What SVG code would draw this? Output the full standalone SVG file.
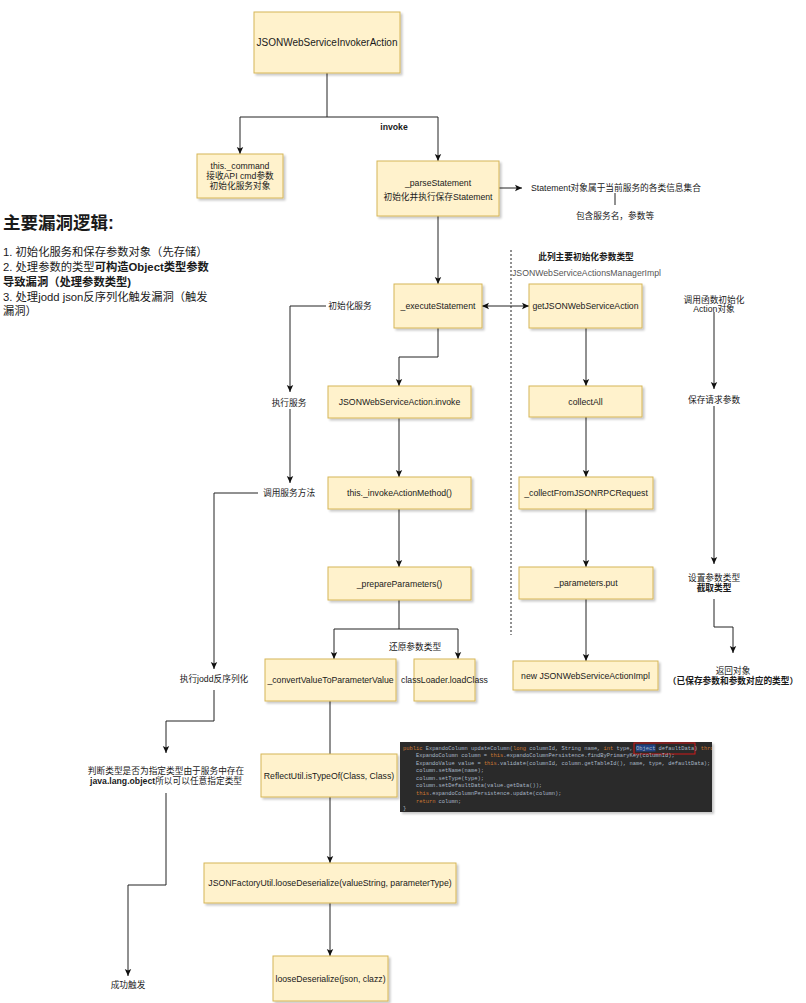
<svg xmlns="http://www.w3.org/2000/svg" width="806" height="1003" viewBox="0 0 806 1003">
  <defs>
    <style>
      text { font-family: "Liberation Sans", "Noto Sans CJK SC", sans-serif; fill: #1a1a1a; }
      .node rect { fill: #fff2cc; stroke: #d6b656; stroke-width: 1; filter: url(#shadow); }
      .nt { font-size: 8.7px; text-anchor: middle; dominant-baseline: central; }
      .lbl { font-size: 8.7px; text-anchor: middle; dominant-baseline: central; }
      .b { font-weight: bold; }
      .edge path { fill: none; stroke: #222; stroke-width: 1; }
      .arr { marker-end: url(#arrow); }
      .note { font-size: 11.3px; dominant-baseline: central; }
      .code text { font-family: "Liberation Mono", "DejaVu Sans Mono", monospace; font-size: 5.4px; fill: #a9b7c6; dominant-baseline: central; white-space: pre; }
      .code .kw { fill: #cc7832; }
    </style>
    <filter id="shadow" x="-10%" y="-10%" width="130%" height="140%">
      <feDropShadow dx="2" dy="2" stdDeviation="1" flood-color="#000" flood-opacity="0.22"/>
    </filter>
    <marker id="arrow" markerUnits="userSpaceOnUse" markerWidth="8" markerHeight="8" refX="7" refY="4" orient="auto-start-reverse">
      <path d="M0,0.8 L7,4 L0,7.2 L1.6,4 Z" fill="#111"/>
    </marker>
    <clipPath id="codeClip">
      <rect x="400" y="742" width="312" height="70"/>
    </clipPath>
  </defs>

  <rect width="806" height="1003" fill="#ffffff"/>

  <!-- connectors -->
  <g id="connectors" class="edge">
    <path class="arr" d="M327,73 V117 H240 V154"/>
    <path class="arr" d="M327,117 H438 V161"/>
    <path class="arr" d="M499,188 H522"/>
    <path d="M615,193 V205"/>
    <path class="arr" d="M438,216 V284"/>
    <path class="arr" d="M482,306 H529" marker-start="url(#arrow)"/>
    <path class="arr" d="M438,328 V357 H399 V386"/>
    <path class="arr" d="M399,418 V477"/>
    <path class="arr" d="M399,509 V567"/>
    <path class="arr" d="M399,600 V629 H334 V659"/>
    <path class="arr" d="M399,629 H458 V659"/>
    <path d="M330,701 V754"/>
    <path class="arr" d="M330,797 V863"/>
    <path class="arr" d="M330,903 V956"/>
    <path class="arr" d="M586,328 V386"/>
    <path class="arr" d="M586,417 V477"/>
    <path class="arr" d="M586,509 V567"/>
    <path class="arr" d="M586,599 V661"/>
    <path class="arr" d="M326,306 H290 V392"/>
    <path class="arr" d="M290,409 V483"/>
    <path class="arr" d="M258,493 H214 V669"/>
    <path class="arr" d="M214,690 V721 H166 V753"/>
    <path class="arr" d="M166,793 V885 H128 V976"/>
    <path class="arr" d="M714,312 V389"/>
    <path class="arr" d="M714,406 V564"/>
    <path class="arr" d="M714,599 V627 H733 V653"/>
    <!-- column separator -->
    <path d="M511,250 V635" stroke="#555" stroke-dasharray="2,2"/>
  </g>

  <!-- main flow nodes -->
  <g id="invokerAction" class="node">
    <rect x="254" y="12" width="146" height="61"/>
    <text class="nt" x="327" y="42.5" style="font-size:10px">JSONWebServiceInvokerAction</text>
  </g>
  <g id="command" class="node">
    <rect x="197" y="154" width="86" height="44"/>
    <text class="nt" x="240" y="166">this._command</text>
    <text class="nt" x="240" y="176">接收API cmd参数</text>
    <text class="nt" x="240" y="186">初始化服务对象</text>
  </g>
  <g id="parseStatement" class="node">
    <rect x="377" y="161" width="122" height="55"/>
    <text class="nt" x="438" y="183">_parseStatement</text>
    <text class="nt" x="438" y="197">初始化并执行保存Statement</text>
  </g>
  <g id="executeStatement" class="node">
    <rect x="394" y="284" width="88" height="44"/>
    <text class="nt" x="438" y="306">_executeStatement</text>
  </g>
  <g id="actionInvoke" class="node">
    <rect x="328" y="386" width="143" height="32"/>
    <text class="nt" x="399.5" y="402">JSONWebServiceAction.invoke</text>
  </g>
  <g id="invokeActionMethod" class="node">
    <rect x="328" y="477" width="143" height="32"/>
    <text class="nt" x="399.5" y="493">this._invokeActionMethod()</text>
  </g>
  <g id="prepareParameters" class="node">
    <rect x="328" y="567" width="143" height="33"/>
    <text class="nt" x="399.5" y="583.5">_prepareParameters()</text>
  </g>
  <g id="convertValue" class="node">
    <rect x="265" y="659" width="131" height="42"/>
    <text class="nt" x="330.5" y="680">_convertValueToParameterValue</text>
  </g>
  <g id="loadClass" class="node">
    <rect x="414" y="659" width="61" height="42"/>
    <text class="nt" x="444.5" y="680">classLoader.loadClass</text>
  </g>
  <g id="isTypeOf" class="node">
    <rect x="261" y="754" width="136" height="43"/>
    <text class="nt" x="329" y="775.5">ReflectUtil.isTypeOf(Class, Class)</text>
  </g>
  <g id="factoryDeserialize" class="node">
    <rect x="204" y="863" width="252" height="40"/>
    <text class="nt" x="330" y="883">JSONFactoryUtil.looseDeserialize(valueString, parameterType)</text>
  </g>
  <g id="looseDeserialize" class="node">
    <rect x="273" y="956" width="115" height="45"/>
    <text class="nt" x="330.5" y="978.5">looseDeserialize(json, clazz)</text>
  </g>

  <!-- actions manager column -->
  <g id="getAction" class="node">
    <rect x="529" y="284" width="113" height="44"/>
    <text class="nt" x="585.5" y="306">getJSONWebServiceAction</text>
  </g>
  <g id="collectAll" class="node">
    <rect x="529" y="386" width="113" height="31"/>
    <text class="nt" x="585.5" y="401.5">collectAll</text>
  </g>
  <g id="collectFromRPC" class="node">
    <rect x="519" y="477" width="134" height="32"/>
    <text class="nt" x="586" y="493">_collectFromJSONRPCRequest</text>
  </g>
  <g id="parametersPut" class="node">
    <rect x="519" y="567" width="134" height="32"/>
    <text class="nt" x="586" y="583">_parameters.put</text>
  </g>
  <g id="newActionImpl" class="node">
    <rect x="513" y="661" width="145" height="29"/>
    <text class="nt" x="585.5" y="675.5">new JSONWebServiceActionImpl</text>
  </g>

  <!-- edge labels and annotations -->
  <g id="labels">
    <text class="lbl b" x="394" y="127">invoke</text>
    <text class="lbl" x="531" y="188" style="text-anchor:start">Statement对象属于当前服务的各类信息集合</text>
    <text class="lbl" x="615" y="216">包含服务名，参数等</text>
    <text class="lbl b" x="586" y="257">此列主要初始化参数类型</text>
    <text class="lbl" x="512" y="273" style="text-anchor:start;fill:#555">JSONWebServiceActionsManagerImpl</text>
    <text class="lbl" x="415" y="647">还原参数类型</text>

    <text class="lbl" x="350" y="306">初始化服务</text>
    <text class="lbl" x="289" y="403">执行服务</text>
    <text class="lbl" x="289" y="493">调用服务方法</text>
    <text class="lbl" x="214" y="679">执行jodd反序列化</text>
    <text class="lbl" x="166" y="771">判断类型是否为指定类型由于服务中存在</text>
    <text class="lbl" x="166" y="781"><tspan class="b">java.lang.object</tspan>所以可以任意指定类型</text>
    <text class="lbl" x="128" y="985">成功触发</text>

    <text class="lbl" x="714" y="300">调用函数初始化</text>
    <text class="lbl" x="714" y="309">Action对象</text>
    <text class="lbl" x="714" y="400">保存请求参数</text>
    <text class="lbl" x="714" y="578">设置参数类型</text>
    <text class="lbl b" x="714" y="588">截取类型</text>
    <text class="lbl" x="733" y="671">返回对象</text>
    <text class="lbl b" x="733" y="681">（已保存参数和参数对应的类型）</text>
  </g>

  <!-- summary notes -->
  <g id="summary">
    <text x="3" y="229" style="font-size:17.5px;font-weight:bold">主要漏洞逻辑:</text>
    <text class="note" x="3" y="252">1. 初始化服务和保存参数对象（先存储）</text>
    <text class="note" x="3" y="267">2. 处理参数的类型<tspan class="b">可构造Object类型参数</tspan></text>
    <text class="note b" x="3" y="282">导致漏洞（处理参数类型)</text>
    <text class="note" x="3" y="297">3. 处理jodd json反序列化触发漏洞（触发</text>
    <text class="note" x="3" y="311">漏洞）</text>
  </g>

  <!-- source excerpt -->
  <g id="codeSnippet" class="code">
    <rect x="400" y="742" width="312" height="70" fill="#2b2b2b" filter="url(#shadow)"/>
    <rect x="636" y="744.5" width="19.5" height="7" fill="#214283"/>
    <rect x="634" y="743" width="61" height="11" fill="none" stroke="#d01818" stroke-width="1"/>
    <g clip-path="url(#codeClip)">
      <text x="403" y="748.5"><tspan class="kw">public</tspan> ExpandoColumn updateColumn(<tspan class="kw">long</tspan> columnId, String name, <tspan class="kw">int</tspan> type, Object defaultData) <tspan class="kw">throws</tspan> PortalException</text>
      <text x="403" y="756">    ExpandoColumn column = <tspan class="kw">this</tspan>.expandoColumnPersistence.findByPrimaryKey(columnId);</text>
      <text x="403" y="763.6">    ExpandoValue value = <tspan class="kw">this</tspan>.validate(columnId, column.getTableId(), name, type, defaultData);</text>
      <text x="403" y="771.2">    column.setName(name);</text>
      <text x="403" y="778.8">    column.setType(type);</text>
      <text x="403" y="786.4">    column.setDefaultData(value.getData());</text>
      <text x="403" y="794">    <tspan class="kw">this</tspan>.expandoColumnPersistence.update(column);</text>
      <text x="403" y="801.6">    <tspan class="kw">return</tspan> column;</text>
      <text x="403" y="809">}</text>
    </g>
  </g>
</svg>
